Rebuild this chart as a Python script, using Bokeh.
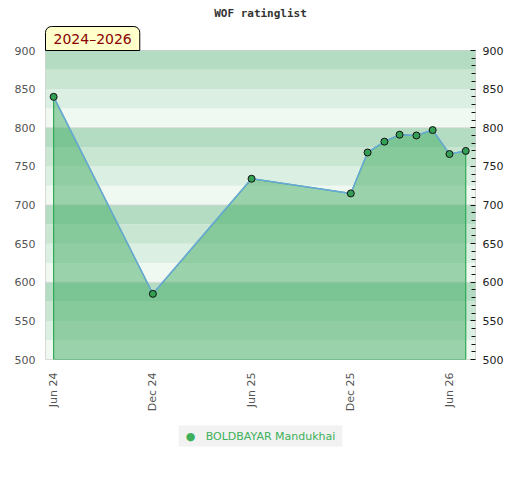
from datetime import datetime, timezone
import math
from bokeh.plotting import figure
from bokeh.models import (BoxAnnotation, Span, Title, FixedTicker, LinearAxis, Range1d)
from bokeh.embed import file_html
from bokeh.resources import INLINE

# ---- data ----
dates = ["2024-06-01", "2024-12-01", "2025-06-01", "2025-12-01", "2026-01-01",
         "2026-02-01", "2026-03-01", "2026-04-01", "2026-05-01", "2026-06-01",
         "2026-07-01"]
ratings = [840, 585, 734, 715, 768, 782, 791, 790, 797, 766, 770]
player = "BOLDBAYAR Mandukhai"
title_text = "WOF ratinglist"
period_text = "2024\u20132026"
tick_dates = ["2024-06-01", "2024-12-01", "2025-06-01", "2025-12-01", "2026-06-01"]
tick_labels = ["Jun 24", "Dec 24", "Jun 25", "Dec 25", "Jun 26"]
y_ticks = [500, 550, 600, 650, 700, 750, 800, 850, 900]
band_edges = [500, 525, 550, 575, 600, 625, 650, 675, 700, 725, 750, 775, 800, 825, 850, 875, 900]
band_colors = ["#f0f8f2", "#dcefe3", "#c9e6d3", "#b3dcc2"]


def to_days(s):
    d = datetime.strptime(s, "%Y-%m-%d").replace(tzinfo=timezone.utc)
    return d.timestamp() / 86400.0


xs = [to_days(d) for d in dates]
tick_x = [to_days(d) for d in tick_dates]

p = figure(output_backend="svg", toolbar_location=None,
           frame_width=430, frame_height=309,
           min_border_left=45, min_border_right=37, min_border_top=10, min_border_bottom=5,
           x_range=Range1d(to_days("2024-05-17"), to_days("2026-07-19")),
           y_range=Range1d(500, 900), background_fill_color="#ffffff",
           border_fill_color="#ffffff")
p.outline_line_color = "#d0d0d0"
p.xgrid.visible = False
p.ygrid.visible = False

# background bands
for i in range(len(band_edges) - 1):
    p.add_layout(BoxAnnotation(bottom=band_edges[i], top=band_edges[i + 1],
                               fill_color=band_colors[i % 4], fill_alpha=1.0,
                               line_alpha=0, level="underlay"))
for v in [600, 700, 800]:
    p.add_layout(Span(location=v, dimension="width", line_color="#d8d8d8",
                      line_width=1, level="underlay"))

# area
px = xs + [xs[-1], xs[0]]
py = ratings + [500, 500]
p.patch(px, py, fill_color="#44ac64", fill_alpha=0.5, line_color="#2eaa55", line_width=1.2)
p.line(xs, ratings, line_color="#6aa8dc", line_width=1.5)
pts = p.scatter(xs, ratings, size=7, marker="circle", fill_color="#33a055",
                line_color="#111111", line_width=1)

# axes
p.xaxis.ticker = FixedTicker(ticks=tick_x)
p.xaxis.major_label_overrides = {t: lab for t, lab in zip(tick_x, tick_labels)}
p.xaxis.major_label_orientation = math.pi / 2
p.xaxis.major_tick_out = 0
p.xaxis.major_tick_in = 0
p.xaxis.minor_tick_out = 0
p.xaxis.minor_tick_in = 0
p.xaxis.axis_line_color = None
p.xaxis.major_label_standoff = 13
p.xaxis.major_label_text_font = "DejaVu Sans"
p.xaxis.major_label_text_font_size = "11px"
p.xaxis.major_label_text_color = "#555555"

p.yaxis.ticker = FixedTicker(ticks=y_ticks)
p.yaxis.major_tick_out = 0
p.yaxis.major_tick_in = 0
p.yaxis.minor_tick_out = 0
p.yaxis.minor_tick_in = 0
p.yaxis.axis_line_color = None
p.yaxis.major_label_standoff = 10
p.yaxis.major_label_text_font = "DejaVu Sans"
p.yaxis.major_label_text_font_size = "11px"
p.yaxis.major_label_text_color = "#555555"

minor = [v for v in range(500, 901, 10) if v % 50 != 0]
ry = LinearAxis(ticker=FixedTicker(ticks=y_ticks, minor_ticks=minor))
ry.major_tick_in = 5
ry.major_tick_out = 0
ry.minor_tick_in = 4
ry.minor_tick_out = 0
ry.major_tick_line_color = "#111111"
ry.minor_tick_line_color = "#111111"
ry.axis_line_color = None
ry.major_label_standoff = 7
ry.major_label_text_font = "DejaVu Sans"
ry.major_label_text_font_size = "11px"
ry.major_label_text_color = "#222222"
p.add_layout(ry, "right")

# period label (box just above the frame, left-aligned)
period = Title(text=period_text, align="left", text_font="DejaVu Sans",
               text_font_size="14px", text_font_style="normal", text_color="#8b0000",
               background_fill_color="#ffffcc", border_line_color="#000000",
               border_line_width=1, padding=(8, 4), border_radius=(6, 6, 0, 0),
               standoff=0, offset=0)
p.add_layout(period, "above")

# main title
p.title.text = title_text
p.title.align = "center"
p.title.text_font = "DejaVu Sans Mono"
p.title.text_font_style = "bold"
p.title.text_font_size = "11px"
p.title.text_color = "#333333"
p.title.standoff = 9

# legend (series key below the axis)
key = Title(text="\u25cf\u00a0\u00a0\u00a0" + player, align="center", text_font="DejaVu Sans",
            text_font_size="11px", text_font_style="normal", text_color="#3cb05a",
            background_fill_color="#f2f2f2", border_line_color=None,
            padding=(7, 4), standoff=18, offset=0)
p.add_layout(key, "below")

open("out.html", "w").write(file_html(p, INLINE))
